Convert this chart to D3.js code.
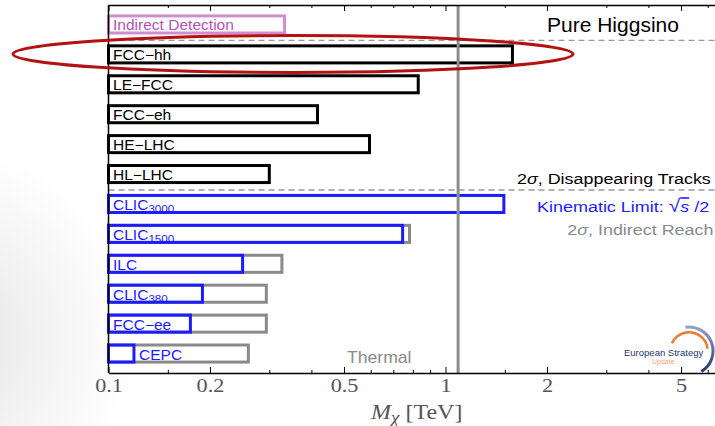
<!DOCTYPE html>
<html>
<head>
<meta charset="utf-8">
<script src="https://cdn.jsdelivr.net/npm/d3@7"></script>
<style>
  body { margin: 0; background: #fff; }
  svg { display: block; }
</style>
</head>
<body>
<svg id="chart" width="715" height="426"></svg>
<script>
// rows top to bottom
const rows = ["Indirect Detection", "FCC-hh", "LE-FCC", "FCC-eh", "HE-LHC", "HL-LHC",
  "CLIC3000", "CLIC1500", "ILC", "CLIC380", "FCC-ee", "CEPC"];
const labels = ["Indirect Detection", "FCC\u2212hh", "LE\u2212FCC", "FCC\u2212eh", "HE\u2212LHC", "HL\u2212LHC",
  "CLIC|3000", "CLIC|1500", "ILC", "CLIC|380", "FCC\u2212ee", "CEPC"];
const kind = ["indirect", "hadron", "hadron", "hadron", "hadron", "hadron",
  "lepton", "lepton", "lepton", "lepton", "lepton", "lepton"];
// reach in TeV (main bar)
const reach = [0.333, 1.58, 0.83, 0.417, 0.595, 0.30, 1.49, 0.746, 0.25, 0.19, 0.175, 0.119];
// 2 sigma indirect reach for lepton colliders (gray bars)
const indirectReach = [null, null, null, null, null, null, null, 0.782, 0.327, 0.294, 0.294, 0.26];
const thermalMass = 1.09;
const majorTicks = [0.1, 0.2, 0.5, 1, 2, 5];
const minorTicks = [0.15, 0.3, 0.4, 0.6, 0.7, 0.8, 0.9, 1.5, 3, 4, 6, 7, 8, 9];

let svg = d3.select("#chart");
let plotTop = 5, plotBottom = 373, plotLeft = 108.5;
const sans = "'Liberation Sans', Arial, sans-serif";
const serif = "'Liberation Serif', 'Times New Roman', serif";

let x = d3.scaleLog()
  .domain([0.1, 10])
  .range([plotLeft, plotLeft + 674]);
let y = d3.scaleBand()
  .domain(rows)
  .range([9.5, 368.5])
  .paddingInner(0.43)
  .paddingOuter(0.215);

const colors = { indirect: "#d08ed0", hadron: "#000000", lepton: "#1c1cff" };
const textColors = { indirect: "#b552b5", hadron: "#000000", lepton: "#1c1cff" };

// the source figure is a bit wider than tall, so text gets a horizontal stretch
function stretch(sel, sx, anchorX, anchorY) {
  sel.attr("transform", "translate(" + anchorX + "," + anchorY + ") scale(" + sx + ",1) translate(" + (-anchorX) + "," + (-anchorY) + ")");
}

// faint background shading lower left
let defs = svg.append("defs");
let grad = defs.append("radialGradient").attr("id", "shade");
grad.append("stop").attr("offset", "0%").attr("stop-color", "#e6e6e6");
grad.append("stop").attr("offset", "100%").attr("stop-color", "#ffffff");
svg.append("ellipse")
  .attr("cx", -40).attr("cy", 340)
  .attr("rx", 170).attr("ry", 190)
  .style("fill", "url(#shade)");
svg.append("rect")
  .attr("x", plotLeft).attr("y", plotTop)
  .attr("width", 715 - plotLeft).attr("height", plotBottom - plotTop)
  .style("fill", "#fff");

// dashed separators
[0.5, 5.5].forEach(function(i) {
  let yy = y(rows[0]) + y.bandwidth() / 2 + y.step() * i + 1;
  svg.append("line")
    .attr("x1", plotLeft).attr("x2", 715)
    .attr("y1", yy).attr("y2", yy)
    .style("stroke", "#9a9a9a")
    .style("stroke-width", 1.3)
    .style("stroke-dasharray", "6,4");
});

// gray indirect-reach bars
svg.selectAll(".ind")
  .data(rows.filter((d, i) => indirectReach[i] != null))
  .enter()
  .append("rect")
  .attr("x", x(0.1))
  .attr("y", d => y(d))
  .attr("width", d => x(indirectReach[rows.indexOf(d)]) - x(0.1))
  .attr("height", y.bandwidth())
  .style("fill", "none")
  .style("stroke", "#8a8a8a")
  .style("stroke-width", 3);

// main bars
svg.selectAll(".bar")
  .data(rows)
  .enter()
  .append("rect")
  .attr("x", x(0.1))
  .attr("y", d => y(d))
  .attr("width", (d, i) => x(reach[i]) - x(0.1))
  .attr("height", y.bandwidth())
  .style("fill", "none")
  .style("stroke", (d, i) => colors[kind[i]])
  .style("stroke-width", 3);

// bar labels
rows.forEach(function(d, i) {
  let parts = labels[i].split("|");
  let tx = d == "CEPC" ? x(reach[i]) + 5 : plotLeft + 4.5;
  let ty = y(d) + y.bandwidth() / 2 + 6;
  let t = svg.append("text")
    .attr("x", tx)
    .attr("y", ty)
    .style("font-family", sans)
    .style("font-size", "14px")
    .style("fill", textColors[kind[i]]);
  t.append("tspan").text(parts[0]);
  if (parts[1]) {
    t.append("tspan")
      .attr("dy", 3.5)
      .style("font-size", "10.5px")
      .text(parts[1]);
  }
  stretch(t, 1.11, tx, ty);
});

// thermal line
svg.append("line")
  .attr("x1", x(thermalMass)).attr("x2", x(thermalMass))
  .attr("y1", plotTop).attr("y2", plotBottom)
  .style("stroke", "#8c8c8c")
  .style("stroke-width", 3);

// axes
svg.append("line")
  .attr("x1", plotLeft).attr("x2", plotLeft)
  .attr("y1", plotTop).attr("y2", plotBottom)
  .style("stroke", "#000")
  .style("stroke-width", 1.5);

let xAxis = svg.append("g")
  .attr("transform", "translate(0," + plotBottom + ")")
  .call(d3.axisBottom(x).tickValues(majorTicks).tickSize(-6).tickSizeOuter(0).tickPadding(6)
    .tickFormat(d3.format("")))
  .style("font-family", serif)
  .style("font-size", "19px");
xAxis.selectAll(".tick text")
  .style("fill", "#555")
  .attr("transform", "scale(1.17,1)");
xAxis.select(".domain").style("stroke-width", 1.5);
svg.append("g")
  .attr("transform", "translate(0," + plotBottom + ")")
  .call(d3.axisBottom(x).tickValues(minorTicks).tickSize(-3).tickSizeOuter(0).tickFormat(""));

let topAxis = svg.append("g")
  .attr("transform", "translate(0," + plotTop + ")")
  .call(d3.axisTop(x).tickValues(majorTicks).tickSize(-6).tickSizeOuter(0).tickFormat(""));
topAxis.select(".domain").style("stroke-width", 1.5);
svg.append("g")
  .attr("transform", "translate(0," + plotTop + ")")
  .call(d3.axisTop(x).tickValues(minorTicks).tickSize(-3).tickSizeOuter(0).tickFormat(""));

// axis title
let title = svg.append("text")
  .attr("x", 371)
  .attr("y", 419)
  .style("font-family", serif)
  .style("font-size", "20px")
  .style("fill", "#555");
title.append("tspan").style("font-style", "italic").text("M");
title.append("tspan").attr("dy", 4).style("font-style", "italic").style("font-size", "16px").text("\u03c7");
title.append("tspan").attr("dy", -4).text(" [TeV]");
stretch(title, 1.2, 371, 419);

// annotations
svg.append("text")
  .attr("x", 547).attr("y", 32)
  .style("font-family", sans)
  .style("font-size", "21px")
  .style("fill", "#000")
  .text("Pure Higgsino");

let t1 = svg.append("text")
  .attr("x", 517).attr("y", 184)
  .style("font-family", sans)
  .style("font-size", "15.5px")
  .style("fill", "#000");
t1.append("tspan").text("2");
t1.append("tspan").style("font-style", "italic").text("\u03c3");
t1.append("tspan").text(", Disappearing Tracks");
stretch(t1, 1.155, 517, 184);

let t2 = svg.append("text")
  .attr("x", 537).attr("y", 212)
  .style("font-family", sans)
  .style("font-size", "15.5px")
  .style("fill", "#1c1cff");
t2.append("tspan").text("Kinematic Limit: ");
t2.append("tspan").style("font-size", "18px").text("\u221a");
t2.append("tspan").style("font-style", "italic").style("text-decoration", "overline").text("s");
t2.append("tspan").text(" /2");
stretch(t2, 1.16, 537, 212);

let t3 = svg.append("text")
  .attr("x", 567).attr("y", 235)
  .style("font-family", sans)
  .style("font-size", "15.5px")
  .style("fill", "#8a8a8a");
t3.append("tspan").text("2");
t3.append("tspan").style("font-style", "italic").text("\u03c3");
t3.append("tspan").text(", Indirect Reach");
stretch(t3, 1.155, 565, 235);

let thermal = svg.append("text")
  .attr("x", 347).attr("y", 363)
  .style("font-family", sans)
  .style("font-size", "16px")
  .style("fill", "#8a8a8a")
  .text("Thermal");
stretch(thermal, 1.1, 347, 363);

// red highlight ellipse round FCC-hh
svg.append("ellipse")
  .attr("cx", 293).attr("cy", 54)
  .attr("rx", 280).attr("ry", 18.5)
  .style("fill", "none")
  .style("stroke", "#b31212")
  .style("stroke-width", 3);

// European Strategy Update logo
let logoGrad = defs.append("linearGradient").attr("id", "navy")
  .attr("x1", "0%").attr("y1", "0%").attr("x2", "0%").attr("y2", "100%");
logoGrad.append("stop").attr("offset", "0%").attr("stop-color", "#9aa6c4");
logoGrad.append("stop").attr("offset", "100%").attr("stop-color", "#24356b");
let logo = svg.append("g").attr("transform", "translate(689,351)");
logo.append("path")
  .attr("d", d3.arc()({ innerRadius: 22.5, outerRadius: 25.5, startAngle: -0.15, endAngle: 2.6 }))
  .style("fill", "url(#navy)");
logo.append("path")
  .attr("d", d3.arc()({ innerRadius: 17.5, outerRadius: 20, startAngle: -1.15, endAngle: 1.45 }))
  .style("fill", "#ef7a33");
svg.append("text")
  .attr("x", 624).attr("y", 356)
  .style("font-family", sans)
  .style("font-size", "9.5px")
  .style("fill", "#24356b")
  .text("European Strategy");
svg.append("text")
  .attr("x", 652).attr("y", 363.5)
  .style("font-family", sans)
  .style("font-size", "7px")
  .style("fill", "#f4a878")
  .text("Update");
</script>
</body>
</html>
